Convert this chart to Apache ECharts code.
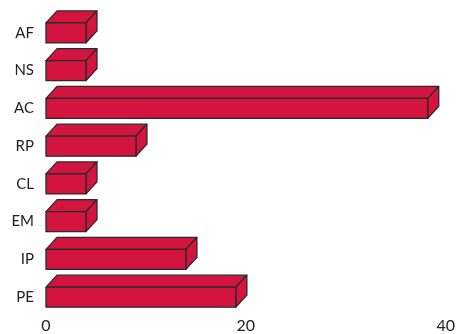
<!DOCTYPE html>
<html>
<head>
<meta charset="utf-8">
<script src="https://cdn.jsdelivr.net/npm/echarts@6/dist/echarts.min.js"></script>
<style>
html,body{margin:0;padding:0;background:#fff;}
#chart{width:458px;height:334px;}
</style>
</head>
<body>
<div id="chart"></div>
<script>
const categories = ['AF', 'NS', 'AC', 'RP', 'CL', 'EM', 'IP', 'PE'];
const values = [4, 4, 38.2, 9, 4, 4, 14, 19];
const xTicks = [0, 20, 40];

const chart = echarts.init(document.getElementById('chart'), null, {renderer: 'canvas'});
const FILL = '#D2143F';
const EDGE = '#2a2a2a';
const DX = 11, DY = 12, H = 20;

function renderItem(params, api) {
  const cat = api.value(0);
  const val = api.value(1);
  const p0 = api.coord([0, cat]);
  const p1 = api.coord([val, cat]);
  const x0 = p0[0], x1 = p1[0];
  const yt = p0[1] - H / 2, yb = p0[1] + H / 2;
  const style = {fill: FILL, stroke: EDGE, lineWidth: 1.3, lineJoin: 'round'};
  return {
    type: 'group',
    children: [
      {type: 'polygon', shape: {points: [[x0, yt], [x1, yt], [x1 + DX, yt - DY], [x0 + DX, yt - DY]]}, style: style},
      {type: 'polygon', shape: {points: [[x1, yt], [x1 + DX, yt - DY], [x1 + DX, yb - DY], [x1, yb]]}, style: style},
      {type: 'rect', shape: {x: x0, y: yt, width: x1 - x0, height: H}, style: style}
    ]
  };
}

chart.setOption({
  animation: false,
  grid: {left: 46, right: 9, top: 14, bottom: 18, containLabel: false},
  xAxis: {
    type: 'value', min: xTicks[0], max: xTicks[xTicks.length - 1], interval: 20,
    axisLine: {show: false}, axisTick: {show: false}, splitLine: {show: false},
    axisLabel: {fontFamily: 'Lato', fontSize: 16, color: '#222', margin: 2}
  },
  yAxis: {
    type: 'category', data: categories, inverse: true,
    axisLine: {show: false}, axisTick: {show: false}, splitLine: {show: false},
    axisLabel: {fontFamily: 'Lato', fontSize: 15, color: '#222', margin: 12}
  },
  series: [{
    type: 'custom',
    renderItem: renderItem,
    encode: {x: 1, y: 0},
    data: categories.map((c, i) => [i, values[i]])
  }]
});
</script>
</body>
</html>
